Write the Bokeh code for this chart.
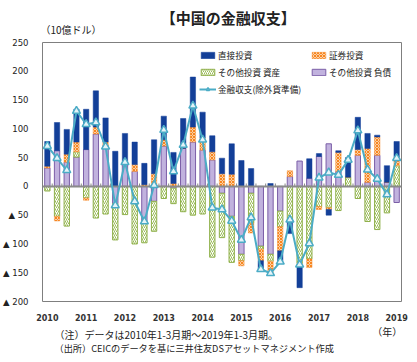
from bokeh.plotting import figure
from bokeh.layouts import column
from bokeh.models import ColumnDataSource, Legend, LegendItem, FixedTicker, Range1d
from bokeh.core.properties import value
from bokeh.embed import file_html
from bokeh.resources import INLINE

# ---- data (10億ドル), 2010Q1 .. 2019Q1 ----
years = ["2010", "2011", "2012", "2013", "2014", "2015", "2016", "2017", "2018", "2019"]
direct = [43, 49, 43, 57, 70, 63, 42, 61, 52, 39, 37, 59, 41, 54, 52, 87, 45, 28, 27, 53,
          45, 31, -15, 5, -19, -25, -38, 34, 5, -10, 3, 34, 56, 26, 3, 29, 27]
securities = [3, -8, 14, 17, -4, 12, 6, 0, 0, 12, 3, 22, 11, 5, 0, 26, 21, 14, 22, 21,
              -9, -17, -20, -23, -42, 10, -5, -15, -5, -3, 33, 0, 10, 59, 32, 0, 15]
other_assets = [-8, -52, -69, 9, -20, -55, -48, -63, -49, -100, -38, -52, -21, -27, -44, -50, -48, -123, -77, -80,
                -11, -52, -5, -12, -27, -57, -133, -126, -35, -37, -42, 16, -21, -61, -75, -46, 36]
other_liab = [32, 62, 42, 51, 64, 91, 71, -30, 40, 26, -60, -26, 70, -3, 66, 77, 63, 46, -12, -52,
              -118, -12, -104, -118, -43, 17, 44, 14, 52, 74, 26, 0, 54, 7, 54, 7, -28]
balance = [70, 49, 28, 131, 108, 111, 69, -33, 42, -26, -61, 2, 98, 26, 72, 140, 81, -37, -40, -60,
           -93, -54, -144, -151, -131, -58, -136, -99, 15, 24, 20, 46, 97, 29, 13, -14, 49]
y_ticks = [250, 200, 150, 100, 50, 0, -50, -100, -150, -200]
series_names = ["直接投資", "証券投資", "その他投資 資産", "その他投資 負債", "金融収支(除外貨準備)"]

title_text = "【中国の金融収支】"
unit_text = "（10億ドル）"
year_unit_text = "（年）"
note_texts = ["（注）データは2010年1-3月期～2019年1-3月期。",
              "（出所）CEICのデータを基に三井住友DSアセットマネジメント作成"]

JP = "Noto Sans CJK JP"
TXT = "#222222"

n = len(balance)
xs = list(range(n))

# stacked positions (positive and negative stacks separately)
order = [("liab", other_liab), ("assets", other_assets), ("sec", securities), ("direct", direct)]
pos = [0.0] * n
neg = [0.0] * n
src = {}
for name, vals in order:
    bots, tops = [], []
    for i, v in enumerate(vals):
        if v >= 0:
            b = pos[i]; t = b + v; pos[i] = t
        else:
            b = neg[i]; t = b + v; neg[i] = t
        bots.append(b); tops.append(t)
    src[name] = ColumnDataSource(dict(x=xs, bottom=bots, top=tops))


def text_strip(h):
    f = figure(width=417, height=h, x_range=Range1d(16, 405.5), y_range=Range1d(h, 0),
               x_axis_location=None, y_axis_location=None, title=None,
               min_border=0, min_border_left=0, min_border_right=0,
               min_border_top=0, min_border_bottom=0,
               output_backend="svg", toolbar_location=None)
    f.grid.visible = False
    f.outline_line_color = None
    f.background_fill_color = "white"
    f.border_fill_color = "white"
    return f


# ---------- top strip: title + unit ----------
top = text_strip(36)
top.text(x=[217.5], y=[17], text=[title_text], text_align="center", text_baseline="middle",
         text_font=value(JP), text_font_style="bold", text_font_size="15px", text_color=TXT)
top.text(x=[47], y=[28.5], text=[unit_text], text_align="center", text_baseline="middle",
         text_font=value(JP), text_font_size="10px", text_color=TXT)

# ---------- main chart ----------
p = figure(width=417, height=287, x_range=(-0.5, n - 0.5), y_range=(-200, 250),
           output_backend="svg", toolbar_location=None,
           min_border_left=42, min_border_right=16, min_border_top=6, min_border_bottom=18)
p.xgrid.visible = False
p.ygrid.visible = False
p.outline_line_color = "#7f7f7f"
p.outline_line_width = 1
p.background_fill_color = "white"
p.border_fill_color = "white"

W = 0.55
r_liab = p.vbar(x="x", bottom="bottom", top="top", width=W, source=src["liab"],
                fill_color="#c1b2de", line_color="#7b5ea7", line_width=1)
r_assets = p.vbar(x="x", bottom="bottom", top="top", width=W, source=src["assets"],
                  fill_color="white", line_color="#8fb04a", line_width=1,
                  hatch_pattern="right_diagonal_line", hatch_color="#9bbb59", hatch_scale=4, hatch_weight=1)
r_sec = p.vbar(x="x", bottom="bottom", top="top", width=W, source=src["sec"],
               fill_color="#fbd0a6", line_color="#f58a2c", line_width=0.5,
               hatch_pattern="diagonal_cross", hatch_color="#f7861f", hatch_scale=3, hatch_weight=1)
r_dir = p.vbar(x="x", bottom="bottom", top="top", width=W, source=src["direct"],
               fill_color="#133f98", line_color="#133f98", line_width=0.5)

# zero line with small category ticks
p.hspan(y=[0], line_color="#8a8a8a", line_width=2)
bounds = [i + 0.5 for i in range(n - 1)]
p.segment(x0=bounds, y0=[0] * len(bounds), x1=bounds, y1=[5] * len(bounds),
          line_color="#8a8a8a", line_width=1)

bsrc = ColumnDataSource(dict(x=xs, y=balance))
r_line = p.line("x", "y", source=bsrc, line_color="#4bacc6", line_width=2)
r_mark = p.scatter("x", "y", source=bsrc, marker="triangle", size=8,
                   fill_color="#e4f3f8", line_color="#4bacc6", line_width=1.5)

# axes
p.xaxis.ticker = FixedTicker(ticks=list(range(0, n, 4)))
p.xaxis.major_label_overrides = {i * 4: years[i] for i in range(len(years))}
p.xaxis.axis_line_color = None
p.xaxis.major_tick_line_color = None
p.xaxis.minor_tick_line_color = None
p.xaxis.major_label_standoff = 6
p.xaxis.major_label_text_font = "DejaVu Sans"
p.xaxis.major_label_text_font_style = "bold"
p.xaxis.major_label_text_font_size = "8px"
p.xaxis.major_label_text_color = "#333333"

p.yaxis.ticker = FixedTicker(ticks=y_ticks)
p.yaxis.major_label_overrides = {t: (str(t) if t >= 0 else "▲ " + str(-t)) for t in y_ticks}
p.yaxis.axis_line_color = None
p.yaxis.major_tick_line_color = None
p.yaxis.minor_tick_line_color = None
p.yaxis.major_label_standoff = 8
p.yaxis.major_label_text_font = "DejaVu Sans"
p.yaxis.major_label_text_font_size = "8.5px"
p.yaxis.major_label_text_color = TXT

# legend: one small legend per entry, laid out in 2 columns x 3 rows
legend_entries = [
    (series_names[0], [r_dir], (157, 240)),
    (series_names[1], [r_sec], (268, 240)),
    (series_names[2], [r_assets], (157, 223)),
    (series_names[3], [r_liab], (268, 223)),
    (series_names[4], [r_line, r_mark], (157, 206)),
]
for label, rends, loc in legend_entries:
    lg = Legend(items=[LegendItem(label=label, renderers=rends)], location=loc,
                padding=0, margin=0, spacing=0, label_standoff=2,
                glyph_width=17, glyph_height=8, label_height=8,
                label_text_font=JP, label_text_font_size="8.6px", label_text_color=TXT,
                border_line_color=None, background_fill_alpha=0)
    p.add_layout(lg)

# ---------- bottom strip: (年) + notes ----------
bot = text_strip(39)
bot.text(x=[390], y=[8], text=[year_unit_text], text_align="center", text_baseline="middle",
         text_font=value(JP), text_font_size="10px", text_color=TXT)
bot.text(x=[29], y=[11], text=[note_texts[0]], text_align="left", text_baseline="middle",
         text_font=value(JP), text_font_size="10px", text_color=TXT)
bot.text(x=[29], y=[24], text=[note_texts[1]], text_align="left", text_baseline="middle",
         text_font=value(JP), text_font_size="9.2px", text_color=TXT)

layout = column(top, p, bot, spacing=0)
open("out.html", "w").write(file_html(layout, INLINE))
